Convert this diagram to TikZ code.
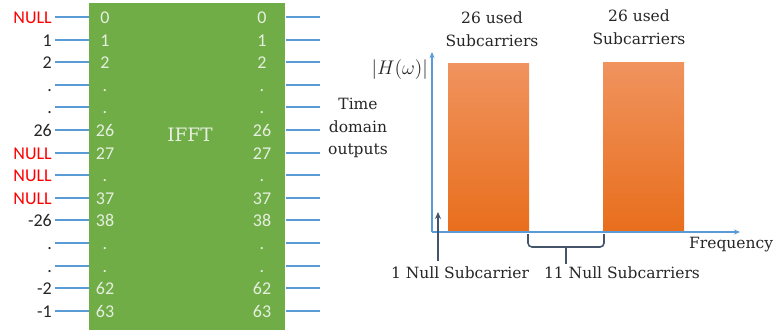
\documentclass[tikz,border=0pt]{standalone}
\usepackage{fontspec}
\newfontfamily\calfont{Carlito}
\newfontfamily\serfont{DejaVu Serif}
\usetikzlibrary{arrows.meta,positioning}
\definecolor{ifftgreen}{HTML}{70AD47}
\definecolor{wireblue}{HTML}{5B9BD5}
\definecolor{numwhite}{HTML}{E6EFDF}
\definecolor{nullred}{HTML}{FF0000}
\definecolor{txt}{HTML}{262626}
\definecolor{barlight}{HTML}{F0935E}
\definecolor{bardark}{HTML}{E86E1C}
\definecolor{slate}{HTML}{44546A}
\newcommand\bigtxt{\serfont\fontsize{15.5}{22.5}\selectfont}
\tikzset{
  wire/.style={wireblue, line width=1.8pt},
  axis/.style={wireblue, line width=1.2pt, -{Stealth[length=6pt,width=5pt]}},
  numlab/.style={font=\calfont\fontsize{18}{20}\selectfont, inner sep=0pt},
  serlab/.style={font=\bigtxt, text=txt, inner sep=0pt, align=center},
  bar/.style={minimum width=81pt, inner sep=0pt, top color=barlight, bottom color=bardark},
  pointer/.style={slate, line width=1.6pt},
}
\begin{document}
\begin{tikzpicture}[x=1pt,y=-1pt]
    \useasboundingbox (0,0) rectangle (774,333);
    % ifft block
    \node[fill=ifftgreen, minimum width=196pt, minimum height=327pt, inner sep=0pt, anchor=north west] (ifft) at (89,3) {};
    \node[serlab, text=numwhite, font=\serfont\fontsize{18.5}{22}\selectfont] (iffttxt) at (190,135) {IFFT};
    % inputs and outputs
    \foreach \outl/\colr/\inl [count=\i from 0] in
    {NULL/nullred/0, 1/txt/1, 2/txt/2, ./txt/., ./txt/., 26/txt/26, NULL/nullred/27,
     NULL/nullred/., NULL/nullred/37, -26/txt/38, ./txt/., ./txt/., -2/txt/62, -1/txt/63}{
        \pgfmathsetmacro\yy{round(17+22.6*\i)}
        \coordinate (a\i) at (55,\yy);
        \coordinate (b\i) at (89,\yy);
        \coordinate (c\i) at (286,\yy);
        \coordinate (d\i) at (320,\yy);
        \draw[wire] (a\i) -- (b\i);
        \draw[wire] (c\i) -- (d\i);
        \node[numlab, text=\colr, anchor=base east] (out\i) at (52,\yy+6) {\outl};
        \node[numlab, text=numwhite, anchor=base] (inl\i) at (105,\yy+6) {\inl};
        \node[numlab, text=numwhite, anchor=base] (inr\i) at (262,\yy+6) {\inl};
    }
    \node[serlab] (tdo) at (358,128) {Time\\domain\\outputs};

    % spectrum
    \coordinate (O) at (432,232);
    \coordinate (ytop) at (432,52);
    \coordinate (xend) at (740,232);
    \node[bar, minimum height=168pt, anchor=south west] (bar1) at (448,232) {};
    \node[bar, minimum height=169pt, anchor=south west] (bar2) at (603,232) {};
    \draw[axis] (O) -- (ytop);
    \draw[axis] (O) -- (xend);
    \node[serlab, anchor=east] (mag) at (428,70) {\scalebox{1.37}{$|H(\omega)|$}};
    \node[serlab] (used1) at (492,29) {26 used\\Subcarriers};
    \node[serlab] (used2) at (639,27) {26 used\\Subcarriers};
    \node[serlab, anchor=west] (freq) at (689,245) {Frequency};

    % null markers
    \coordinate (n1) at (438,212);
    \node[serlab] (null1) at (460,273) {1 Null Subcarrier};
    \draw[pointer, -{Stealth[length=7pt,width=6pt]}] ([yshift=6pt]null1.north -| n1) -- (n1);
    \node[serlab] (null11) at (622,273) {11 Null Subcarriers};
    \coordinate (brL) at (528,234);
    \coordinate (brR) at (604,234);
    \coordinate (brM) at (566,247);
    \draw[pointer, rounded corners=4pt] (brL) -- (brL |- brM) -- (brR |- brM) -- (brR);
    \draw[pointer] (brM) -- ([yshift=3pt]brM |- null11.north);
\end{tikzpicture}
\end{document}
